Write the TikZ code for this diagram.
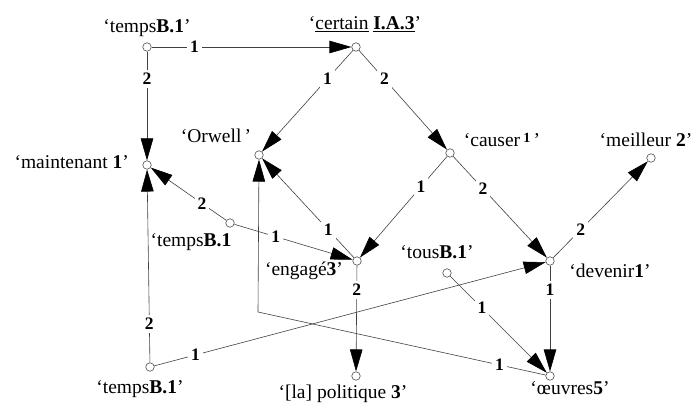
\documentclass[tikz,border=0pt]{standalone}
\usepackage{fontspec}
\setmainfont{Liberation Serif}
\usetikzlibrary{arrows.meta}
\begin{document}
\begin{tikzpicture}[x=1pt,y=-1pt,
  vtx/.style={circle,draw=black!70,fill=white,minimum size=8.5pt,inner sep=0pt,line width=0.6pt},
  word/.style={inner sep=0pt,anchor=base,font=\fontsize{19.5}{21}\selectfont},
  lab/.style={fill=white,inner sep=3pt,font=\fontsize{17.5}{19}\selectfont\bfseries},
  edge/.style={draw=black!75,line width=0.6pt},
  arr/.style={edge,-{Triangle[length=22pt,width=12.5pt,color=black]}}]
\useasboundingbox (0,0) rectangle (693,403);

% vertices
\node[vtx] (tt) at (147,47) {};
\node[vtx] (ce) at (356,47) {};
\node[vtx] (ma) at (147,165) {};
\node[vtx] (or) at (259,155) {};
\node[vtx] (ca) at (450,153) {};
\node[vtx] (me) at (651,158) {};
\node[vtx] (tm) at (230,223) {};
\node[vtx] (en) at (357,261) {};
\node[vtx] (to) at (447,273) {};
\node[vtx] (de) at (550,261) {};
\node[vtx] (tb) at (150,367) {};
\node[vtx] (po) at (356,376) {};
\node[vtx] (oe) at (550,376) {};
\coordinate (bend) at (258,312);

% vertex names
\node[word] (ttL) at (147,33) {‘temps\textbf{B.1}’};
\node[word] (ceL) at (365,30) {‘\underline{certain} \underline{\textbf{I.A.3}}’};
\node[word,anchor=base east] (maL) at (129,169) {‘maintenant \textbf{1}’};
\node[word] (orL) at (216,143) {‘Orwell\,’};
\node[word] (caL) at (502,147) {‘causer\,\raisebox{0.55ex}{\fontsize{14}{16}\selectfont\textbf{1}}\,’};
\node[word] (meL) at (646,147) {‘meilleur \textbf{2}’};
\node[word] (tmL) at (191,247) {‘temps\textbf{B.1}};
\node[word] (enL) at (304,276) {‘engagé\textbf{3}’};
\node[word] (toL) at (437,259) {‘tous\textbf{B.1}’};
\node[word] (deL) at (610,277) {‘devenir\textbf{1}’};
\node[word] (tbL) at (140,393) {‘temps\textbf{B.1}’};
\node[word] (poL) at (343,398) {‘[la] politique \textbf{3}’};
\node[word] (oeL) at (570,394) {‘œuvres\textbf{5}’};

% relations
\draw[arr] (tt) -- node[lab,pos=0.215]{1} (ce);
\draw[arr] (tt) -- node[lab,pos=0.25]{2} (ma);
\draw[arr] (ce) -- node[lab,pos=0.28]{1} (or);
\draw[arr] (ce) -- node[lab,pos=0.29]{2} (ca);
\draw[arr] (ca) -- node[lab,pos=0.3]{1} (en);
\draw[arr] (ca) -- node[lab,pos=0.32]{2} (de);
\draw[arr] (de) -- node[lab,pos=0.29]{2} (me);
\draw[arr] (tm) -- node[lab,pos=0.32]{2} (ma);
\draw[arr] (tm) -- node[lab,pos=0.35]{1} (en);
\draw[arr] (en) -- node[lab,pos=0.28]{1} (or);
\draw[arr] (en) -- node[lab,pos=0.23]{2} (po);
\draw[arr] (tb) -- node[lab,pos=0.2]{2} (ma);
\draw[arr] (tb) -- node[lab,pos=0.105]{1} (de);
\draw[arr] (to) -- node[lab,pos=0.33]{1} (oe);
\draw[arr] (de) -- node[lab,pos=0.23]{1} (oe);
\draw[arr] (oe) -- node[lab,pos=0.16]{1} (bend) -- (or);
\end{tikzpicture}
\end{document}
